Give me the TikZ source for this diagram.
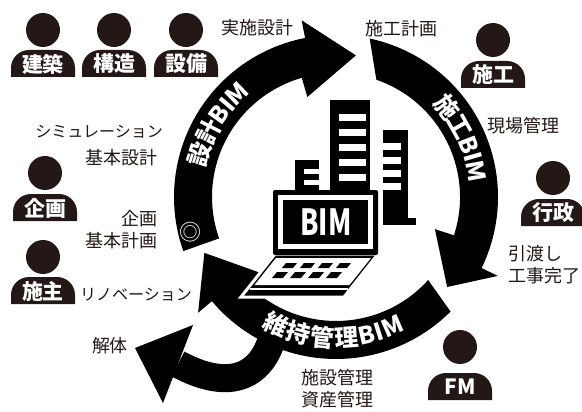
\documentclass[tikz,border=0pt]{standalone}
\usepackage{fontspec}
\usepackage{graphicx}
\usetikzlibrary{calc,decorations.text}
\newfontfamily\jp{Noto Sans CJK JP}
\definecolor{ink}{HTML}{231815}

\tikzset{
  lbl/.style={font=\jp\fontsize{18}{18}\selectfont, text=ink, inner sep=0pt},
  kana/.style={font=\jp\fontsize{16}{16}\selectfont, text=ink, inner sep=0pt},
  tag/.style={font=\jp\bfseries\fontsize{21}{21}\selectfont, text=white, inner sep=0pt},
  slot/.style={fill=white},
  bandtext/.style={decorate, decoration={text along path, text align=center,
      text color=white, raise=-9pt, text={|\jp\bfseries\fontsize{24}{24}\selectfont|#1}}},
}

% person icon: name, head x, head y, body top, label
\newcommand\person[5]{%
  \fill[ink] (#2,#3) circle[radius=17];
  \fill[ink] (#2-32,#4+27) -- (#2-32,#4+18)
    arc[start angle=180, end angle=270, radius=18] -- (#2+14,#4)
    arc[start angle=270, end angle=360, radius=18] -- (#2+32,#4+27) -- cycle;
  \node[tag] (#1) at (#2,#4+14) {#5};
}

\begin{document}
\begin{tikzpicture}[x=1pt, y=-1pt]
\fill[white] (0,0) rectangle (582,412);
\useasboundingbox (0,0) rectangle (582,412);

% ---- the three lifecycle bands ----
\begin{scope}[shift={(336,197)}]
  % design
  \fill (160.5:162) arc[start angle=160.5, end angle=259, radius=162]
    -- (259:180) -- (278:143) -- (254:104) -- (254:124)
    arc[start angle=254, end angle=160.5, radius=124] -- cycle;
  % construction
  \fill (-78:162) arc[start angle=-78, end angle=26, radius=162]
    -- (26:180) -- (39:143) -- (18:104) -- (18:124)
    arc[start angle=18, end angle=-71, radius=124] -- cycle;
  % maintenance
  \fill (45:162) arc[start angle=45, end angle=140, radius=162]
    -- (140:180) -- (157:143) -- (131:104) -- (131:124)
    arc[start angle=131, end angle=42, radius=124] -- cycle;
\end{scope}

% demolition hook
\draw[line width=28] (275,327) .. controls (265,378) and (230,392) .. (178,364);
\fill (193,325) -- (135,348) -- (163,403) -- cycle;

% band titles
\begin{scope}[shift={(336,197)}]
  \path[bandtext={設計BIM}] (181.5:143) arc[start angle=181.5, end angle=241.5, radius=143];
  \path[bandtext={施工BIM}] (-55:143) arc[start angle=-55, end angle=5, radius=143];
  \path[bandtext={維持管理BIM}] (126:141) arc[start angle=126, end angle=56, radius=141];
\end{scope}

\node[font=\jp\fontsize{22}{22}\selectfont, text=white, inner sep=0pt] (maru) at (190,232) {◎};

% ---- buildings ----
\fill (330,100) rectangle (370,192);
\foreach \y in {114,129,144,159,174} \fill[slot] (339,\y) rectangle (366,\y+7);
\fill (383,130) rectangle (408,225);
\fill (383,218) rectangle (416,225);
\foreach \y in {143,157,170,183} \fill[slot] (381,\y) rectangle (401,\y+7);
\fill (295,160) rectangle (319,192);
\foreach \y in {169,180} \fill[slot] (304,\y) rectangle (321,\y+5);

% ---- laptop ----
\fill[draw=white, line width=3] (275,254) -- (378,254) -- (344,297) -- (241,297) -- cycle;
\fill[white] (276,258) -- (371,258) -- (349.5,285) -- (254.5,285) -- cycle;
\foreach \x in {286,304,322,340} \fill (\x,263) -- (\x+11,263) -- (\x+7,268) -- (\x-4,268) -- cycle;
\foreach \x in {277,295,313,331} \fill (\x,272) -- (\x+11,272) -- (\x+6,278) -- (\x-5,278) -- cycle;
\draw[white, line width=2] (250,289) -- (348,289);
\fill[rounded corners=2] (273,190) rectangle (378,255);
\fill[white] (278,195) rectangle (373,249);
\fill (283,200) rectangle (368,244);
\node[font=\jp\bfseries\fontsize{36}{36}\selectfont, text=white, inner sep=0pt] (bim) at (326,222) {\scalebox{0.74}[1]{BIM}};

% ---- stakeholders ----
\person{kenchiku}{43}{30}{50}{建築}
\person{kozo}{114}{30}{50}{構造}
\person{setsubi}{186}{30}{50}{設備}
\person{seko}{493}{40}{61}{施工}
\person{kikakup}{45}{173}{194}{企画}
\person{seshu}{43}{257}{277}{施主}
\person{gyosei}{553}{178}{199}{行政}
\person{fm}{460}{347}{373}{FM}

% ---- phase labels ----
\node[lbl] (jisshi) at (257,28) {実施設計};
\node[lbl] (sekokeikaku) at (401,29) {施工計画};
\node[lbl] (genba) at (523,126) {現場管理};
\node[kana, anchor=east] (sim) at (163,132) {シミュレーション};
\node[lbl, anchor=east] (kihonsekkei) at (158,158) {基本設計};
\node[lbl, anchor=east] (kikaku) at (158,219) {企画};
\node[lbl, anchor=east] (kihonkeikaku) at (158,241) {基本計画};
\node[kana] (reno) at (136,295) {リノベーション};
\node[lbl] (kaitai) at (110,346) {解体};
\node[lbl, anchor=west] (hikiwatashi) at (508,254) {引渡し};
\node[lbl, anchor=west] (kanryo) at (508,276) {工事完了};
\node[lbl] (shisetsu) at (337,378) {施設管理};
\node[lbl] (shisan) at (337,400) {資産管理};
\end{tikzpicture}
\end{document}
